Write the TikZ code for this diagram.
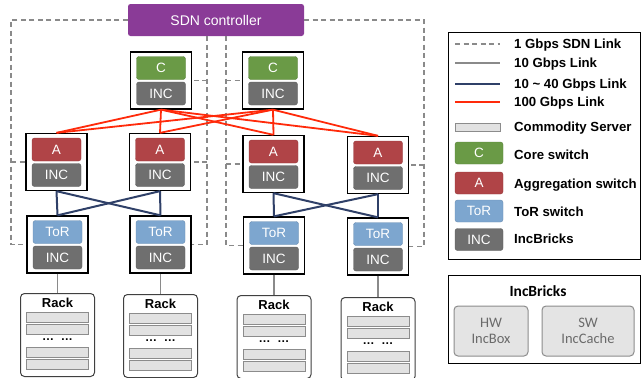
\documentclass[tikz,border=0pt]{standalone}
\usepackage{fontspec}
\setmainfont{Liberation Sans}
\newfontfamily\calfont{Carlito}
\usetikzlibrary{calc}

\definecolor{ctrlpurple}{HTML}{8A3B97}
\definecolor{coregreen}{HTML}{6A9A46}
\definecolor{aggred}{HTML}{B04447}
\definecolor{torblue}{HTML}{7DA6CF}
\definecolor{incgray}{HTML}{6F6F6F}
\definecolor{linkred}{HTML}{FF2A0A}
\definecolor{linknavy}{HTML}{2F4068}
\definecolor{linkgray}{HTML}{8A8A8A}
\definecolor{sdngray}{HTML}{8A8A8A}
\definecolor{srvfill}{HTML}{E2E2E2}
\definecolor{srvdraw}{HTML}{8C8C8C}
\definecolor{brickfill}{HTML}{E4E4E4}
\definecolor{bricktext}{HTML}{6A6A6A}

\newcommand\fsz[1]{\fontsize{#1}{#1}\selectfont}

\tikzset{
  swbox/.style={draw=black, line width=1.3pt, fill=white, minimum width=61pt,
    minimum height=57pt, inner sep=0pt},
  chip/.style={rounded corners=2.5pt, minimum width=49pt, minimum height=23pt,
    inner sep=0pt, text=white, font=\fsz{13.5}},
  corechip/.style={chip, fill=coregreen, draw=coregreen!85!black},
  aggchip/.style={chip, fill=aggred, draw=aggred!85!black},
  torchip/.style={chip, fill=torblue, draw=torblue!85!black},
  incchip/.style={chip, fill=incgray, draw=incgray!85!black},
  sdn/.style={draw=sdngray, line width=1.1pt, dash pattern=on 5pt off 3.5pt},
  tengig/.style={draw=linkgray, line width=1.3pt},
  midgig/.style={draw=linknavy, line width=2pt},
  hundredgig/.style={draw=linkred, line width=1.8pt},
  rackbox/.style={draw=black!75, line width=1pt, rounded corners=4pt, fill=white,
    minimum width=74pt, minimum height=83pt, inner sep=0pt},
  server/.style={draw=srvdraw, fill=srvfill, line width=1pt, minimum width=62pt,
    minimum height=10pt, inner sep=0pt},
  legtext/.style={anchor=base west, inner sep=0pt, font=\fsz{13.2}\bfseries},
  brick/.style={draw=black!45, fill=brickfill, line width=1pt, rounded corners=4pt,
    inner sep=0pt, text=bricktext, align=center, font=\calfont\fontsize{14.5}{16}\selectfont},
}

% switch: name, x, y, chip style, top label
\newcommand\swnode[5]{%
  \node[swbox] (#1) at (#2,#3) {};
  \node[#4] (#1t) at ($(#1.center)+(0,-12.5)$) {#5};
  \node[incchip] (#1b) at ($(#1.center)+(0,13)$) {INC};
}

% rack: name, x, top y
\newcommand\racknode[3]{%
  \node[rackbox, anchor=north] (#1) at (#2,#3) {};
  \node[font=\fsz{13}\bfseries] (#1l) at ($(#1.north)+(0,9.5)$) {Rack};
  \node[server] (#1s1) at ($(#1.north)+(0,24)$) {};
  \node[server] (#1s2) at ($(#1.north)+(0,36)$) {};
  \node[font=\fsz{12}\bfseries, inner sep=0pt] (#1d) at ($(#1.north)+(0,47)$) {…\ \ …};
  \node[server] (#1s3) at ($(#1.north)+(0,59.5)$) {};
  \node[server] (#1s4) at ($(#1.north)+(0,71.5)$) {};
}

\begin{document}
\begin{tikzpicture}[x=1pt, y=-1pt]
\useasboundingbox (0,0) rectangle (641,378);

% SDN controller
\node[fill=ctrlpurple, rounded corners=2.5pt, minimum width=176pt, minimum height=32pt,
  inner sep=0pt, text=white, font=\fsz{14}] (ctrl) at (216,20) {SDN controller};

% switches
\swnode{C1}{161}{80.5}{corechip}{C}
\swnode{C2}{273}{80.5}{corechip}{C}
\swnode{A1}{56.5}{162}{aggchip}{A}
\swnode{A2}{160}{162}{aggchip}{A}
\swnode{A3}{273.5}{164}{aggchip}{A}
\swnode{A4}{378}{165}{aggchip}{A}
\swnode{T1}{57.5}{244.5}{torchip}{ToR}
\swnode{T2}{160.5}{244.5}{torchip}{ToR}
\swnode{T3}{274}{245.5}{torchip}{ToR}
\swnode{T4}{378}{246.5}{torchip}{ToR}

% racks
\racknode{R1}{57.5}{293}
\racknode{R2}{160.5}{294}
\racknode{R3}{274}{295}
\racknode{R4}{378}{297}

% SDN control buses
\coordinate (busA) at (11,0);
\coordinate (busB) at (207,0);
\coordinate (busC) at (226,0);
\coordinate (busD) at (424,0);
\draw[sdn] (ctrl.west) -- (ctrl.west -| busA) -- (busA |- T1.west) -- (T1.west);
\draw[sdn] (busA |- A1.west) -- (A1.west);
\draw[sdn] (ctrl.south -| busB) -- (busB |- T2.east) -- (T2.east);
\draw[sdn] (busB |- C1.east) -- (C1.east);
\draw[sdn] (busB |- A2.east) -- (A2.east);
\draw[sdn] (ctrl.south -| busC) -- (busC |- T3.west) -- (T3.west);
\draw[sdn] (busC |- C2.west) -- (C2.west);
\draw[sdn] (busC |- A3.west) -- (A3.west);
\draw[sdn] (ctrl.east) -- (ctrl.east -| busD) -- (busD |- T4.east) -- (T4.east);
\draw[sdn] (busD |- A4.east) -- (A4.east);

% core to aggregation, 100 Gbps
\foreach \c in {C1,C2}
  \foreach \a in {A1,A2,A3,A4}
    \draw[hundredgig] (\c.south) -- (\a.north);

% aggregation to ToR, 10~40 Gbps
\foreach \a/\t in {A1/T1,A1/T2,A2/T1,A2/T2,A3/T3,A3/T4,A4/T3,A4/T4}
  \draw[midgig] (\a.south) -- (\t.north);

% ToR to rack, 10 Gbps
\foreach \t/\r in {T1/R1,T2/R2,T3/R3,T4/R4}
  \draw[tengig] (\t.south) -- (\r.north);

% legend
\node[draw=black, line width=1pt, minimum width=192pt, minimum height=227pt,
  inner sep=0pt] (legend) at (544,145.5) {};
\draw[sdn] (455,44) coordinate (l1a) -- (500,44) coordinate (l1b);
\node[legtext] (t1) at (514,48.8) {1 Gbps SDN Link};
\draw[tengig] (455,63) coordinate (l2a) -- (500,63) coordinate (l2b);
\node[legtext] (t2) at (514,67.8) {10 Gbps Link};
\draw[midgig] (455,83.5) coordinate (l3a) -- (500,83.5) coordinate (l3b);
\node[legtext] (t3) at (514,88.3) {10 \textasciitilde{} 40 Gbps Link};
\draw[hundredgig] (455,102) coordinate (l4a) -- (500,102) coordinate (l4b);
\node[legtext] (t4) at (514,106.8) {100 Gbps Link};
\node[server, minimum width=45pt, minimum height=8pt] (lsrv) at (477.5,127) {};
\node[legtext] (t5) at (514,131.8) {Commodity Server};
\node[corechip, minimum width=48pt, minimum height=22pt] (lc) at (479,153) {C};
\node[legtext] (t6) at (514,159.5) {Core switch};
\node[aggchip, minimum width=48pt, minimum height=22pt] (la) at (479,183) {A};
\node[legtext] (t7) at (514,188.5) {Aggregation switch};
\node[torchip, minimum width=48pt, minimum height=22pt] (lt) at (479,211) {ToR};
\node[legtext] (t8) at (514,216) {ToR switch};
\node[incchip, minimum width=48pt, minimum height=22pt] (li) at (479,239.5) {INC};
\node[legtext] (t9) at (514,243.5) {IncBricks};

% IncBricks components
\node[draw=black, line width=1pt, minimum width=192pt, minimum height=88pt,
  inner sep=0pt] (bricks) at (544,319) {};
\node[anchor=base, font=\calfont\fsz{15.5}\bfseries] (btitle) at (538,296) {IncBricks};
\node[brick, minimum width=74pt, minimum height=50pt] (hw) at (491,331) {HW\\IncBox};
\node[brick, minimum width=92pt, minimum height=50pt] (sw) at (588,331) {SW\\IncCache};
\end{tikzpicture}
\end{document}
